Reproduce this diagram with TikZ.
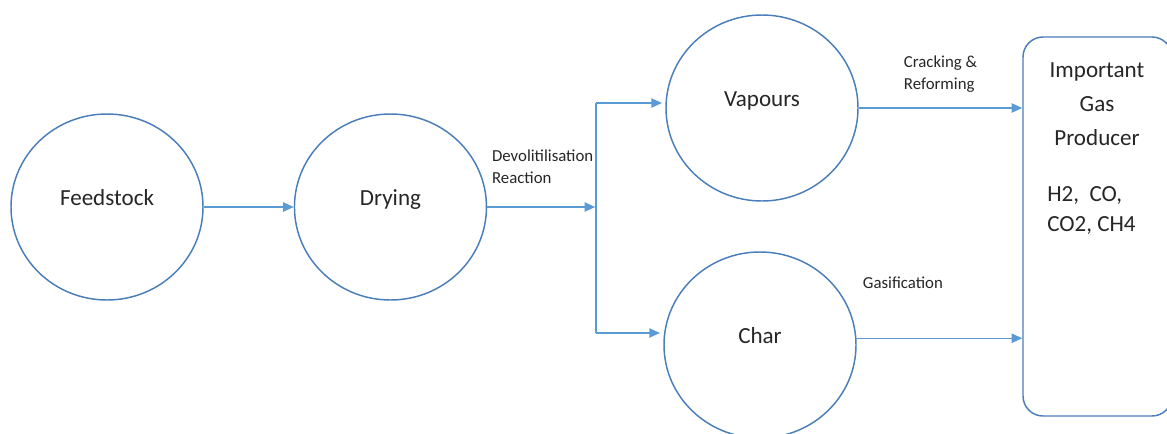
\documentclass[tikz,border=0pt]{standalone}
\usepackage{fontspec}
\setmainfont{Carlito}
\usepackage{xcolor}
\usetikzlibrary{arrows.meta,positioning,shapes.geometric}
\definecolor{ringblue}{HTML}{4A7EBB}
\definecolor{flowblue}{HTML}{5B9BD5}

\begin{document}
\begin{tikzpicture}[
    x=0.75pt, y=-0.75pt,
    stagenode/.style={ellipse, draw=ringblue, line width=1.1pt, minimum width=144pt, minimum height=139.5pt, inner sep=0pt, font=\fontsize{17.3}{20}\selectfont, text height=0.7em, text depth=0.9em},
    gasnode/.style={rectangle, rounded corners=15pt, draw=ringblue, line width=1.1pt, minimum width=111.75pt, minimum height=284.25pt},
    gastext/.style={inner sep=0pt, font=\fontsize{17.3}{25.5}\selectfont},
    flowlabel/.style={inner sep=0pt, align=left, font=\fontsize{12.6}{16.5}\selectfont},
    flow/.style={draw=flowblue, line width=1.1pt, -{Triangle[length=8pt,width=7pt]}},
    text=black!85
    ]
    \useasboundingbox (0,0) rectangle (1167,433);

    %Nodes
    \node[stagenode] (feedstock) at (107,207)              {Feedstock};
    \node[stagenode] (drying)    [right=67.5pt of feedstock] {Drying};
    \node[stagenode] (vapours)   at (762,108)              {Vapours};
    \node[stagenode] (char)      at (760,345)              {Char};
    \node[gasnode]   (gas)       at (1097.5,226.5)         {};
    \node[gastext, align=center] (gastitle) at (1097,104)  {Important\\Gas\\Producer};
    \node[gastext, align=left, anchor=west, font=\fontsize{17.3}{22.5}\selectfont] (gaslist) at (1047,210) {H2,\ \ CO,\\CO2, CH4};

    %Split points
    \coordinate[right=83.25pt of drying.east] (split);
    \coordinate (vtop) at (596,103);
    \coordinate (vbot) at (596,333);

    %Lines
    \draw[flow] (feedstock.east) -- (drying.west);
    \draw[flow, shorten >=2.25pt] (drying.east) -- node[flowlabel, midway, above=17pt] (devol) {Devolitilisation\\Reaction} (split);
    \draw[draw=flowblue, line width=1.1pt] (vtop) -- (vbot);
    \draw[flow, shorten >=2.5pt] (vtop) -- (vtop -| vapours.west);
    \draw[flow, shorten >=2.5pt] (vbot) -- (vbot -| char.west);
    \draw[flow] (vapours.east) -- node[flowlabel, midway, above=11.5pt] (crack) {Cracking \&\\Reforming} (vapours.east -| gas.west);
    \draw[flow] (char.4) -- node[flowlabel, pos=0.28, above=36.5pt] (gasif) {Gasification} (char.4 -| gas.west);
\end{tikzpicture}
\end{document}
